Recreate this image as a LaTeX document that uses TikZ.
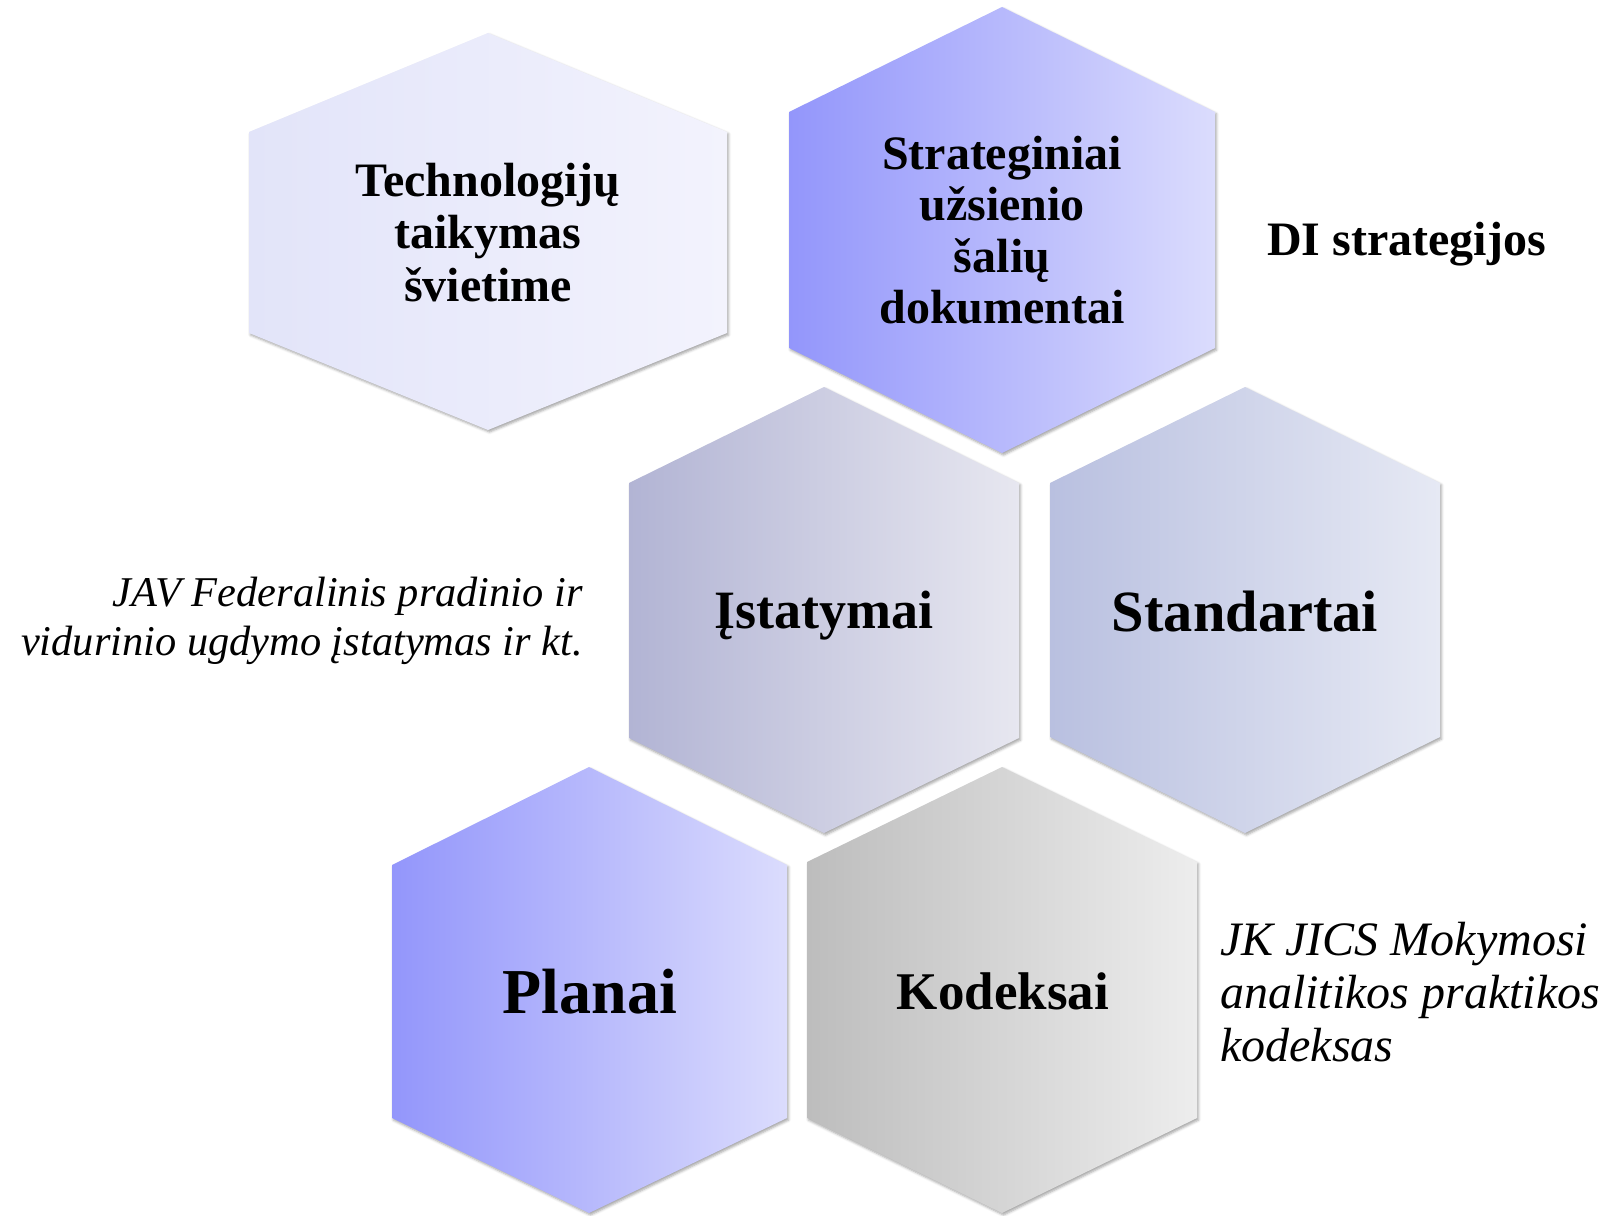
\documentclass[tikz,border=0pt]{standalone}
\usepackage{fontspec}
\setmainfont{Liberation Serif}
\usetikzlibrary{shadows.blur}
\definecolor{h1l}{HTML}{E2E4F9}\definecolor{h1r}{HTML}{F3F3FD}
\definecolor{h2l}{HTML}{9396FB}\definecolor{h2r}{HTML}{DBDCFD}
\definecolor{h3l}{HTML}{B2B4D4}\definecolor{h3r}{HTML}{E7E7F0}
\definecolor{h4l}{HTML}{B9C0E0}\definecolor{h4r}{HTML}{E6E9F4}
\definecolor{h6l}{HTML}{BDBDBD}\definecolor{h6r}{HTML}{EDEDED}
\tikzset{
  hexshape/.style={blur shadow={shadow xshift=1.5pt,shadow yshift=-2pt,shadow blur radius=2.5pt,shadow opacity=35}},
  hextext/.style={align=center,inner sep=0pt,text=black},
  sidetext/.style={inner sep=0pt,text=black}
}
\begin{document}
\begin{tikzpicture}[x=1pt,y=-1pt]
\useasboundingbox (0,0) rectangle (1608,1215);
% hexagons
\path[hexshape,left color=h1l,right color=h1r] (488,33) -- (727,132) -- (727,333) -- (488,430) -- (249,333) -- (249,132) -- cycle;
\path[hexshape,left color=h2l,right color=h2r] (1002,7) -- (1215,112) -- (1215,348) -- (1002,453) -- (789,348) -- (789,112) -- cycle;
\path[hexshape,left color=h3l,right color=h3r] (824,387) -- (1019,483) -- (1019,738) -- (824,833) -- (629,738) -- (629,483) -- cycle;
\path[hexshape,left color=h4l,right color=h4r] (1245,387) -- (1440,483) -- (1440,737) -- (1245,833) -- (1050,737) -- (1050,483) -- cycle;
\path[hexshape,left color=h2l,right color=h2r] (589,767) -- (787,865) -- (787,1118) -- (589,1213) -- (392,1118) -- (392,865) -- cycle;
\path[hexshape,left color=h6l,right color=h6r] (1002,767) -- (1197,862) -- (1197,1118) -- (1002,1213) -- (807,1118) -- (807,862) -- cycle;
% hexagon texts
\node[hextext,font=\fontsize{48}{52.5}\selectfont\bfseries] (tech) at (488,232.5) {Technologijų\\taikymas\\švietime};
\node[hextext,font=\fontsize{48}{51.5}\selectfont\bfseries] (strat) at (1002,230) {Strateginiai\\užsienio\\šalių\\dokumentai};
\node[hextext,font=\fontsize{54}{60}\selectfont\bfseries] (ist) at (824,616) {Įstatymai};
\node[hextext,font=\fontsize{58.4}{64}\selectfont\bfseries] (stand) at (1245,612) {Standartai};
\node[hextext,font=\fontsize{64}{70}\selectfont\bfseries] (plan) at (590,992) {Planai};
\node[hextext,font=\fontsize{53}{58}\selectfont\bfseries] (kod) at (1003,991.5) {Kodeksai};
% side texts
\node[sidetext,anchor=west,font=\fontsize{48}{52}\selectfont\bfseries] (di) at (1267,244) {DI strategijos};
\node[sidetext,anchor=east,align=right,font=\fontsize{42.4}{48.5}\selectfont\itshape] (jav) at (583,621) {JAV Federalinis pradinio ir\\vidurinio ugdymo įstatymas ir kt.};
\node[sidetext,anchor=west,align=left,font=\fontsize{48}{52.8}\selectfont\itshape] (jk) at (1220,992) {JK JICS Mokymosi\\analitikos praktikos\\kodeksas};
\end{tikzpicture}
\end{document}
